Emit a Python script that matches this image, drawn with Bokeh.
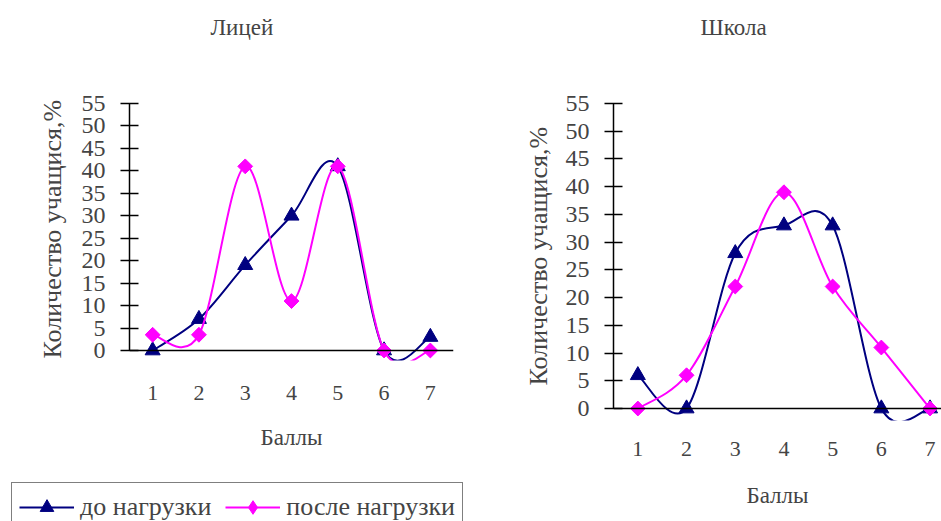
import numpy as np
from bokeh.plotting import figure
from bokeh.models import Range1d, FixedTicker, Span, Legend, LegendItem, Title
from bokeh.layouts import row, column
from bokeh.embed import file_html
from bokeh.resources import INLINE

# Scores and the share of pupils (%) before / after the load
scores = [1, 2, 3, 4, 5, 6, 7]
y_ticks = [0, 5, 10, 15, 20, 25, 30, 35, 40, 45, 50, 55]

lyceum_before = [0, 7, 19, 30, 41, 0, 3]
lyceum_after = [3.5, 3.5, 41, 11, 41, 0, 0]

school_before = [6, 0, 28, 33, 33, 0, 0]
school_after = [0, 6, 22, 39, 22, 11, 0]

label_before = "до нагрузки"
label_after = "после нагрузки"
y_title = "Количество учащися,%"
x_title = "Баллы"

NAVY = "#000080"
MAGENTA = "#FF00FF"
FONT = "Liberation Serif"


def smooth_segments(xs, ys):
    """Cubic Bezier segments through the points (Catmull-Rom tangents)."""
    x = np.asarray(xs, dtype=float)
    y = np.asarray(ys, dtype=float)
    n = len(x)
    xp = np.concatenate([[x[0]], x, [x[-1]]])
    yp = np.concatenate([[y[0]], y, [y[-1]]])
    return dict(
        x0=x[:-1], y0=y[:-1], x1=x[1:], y1=y[1:],
        cx0=x[:-1] + (xp[2:n + 1] - xp[0:n - 1]) / 6.0,
        cy0=y[:-1] + (yp[2:n + 1] - yp[0:n - 1]) / 6.0,
        cx1=x[1:] - (xp[3:n + 2] - xp[1:n]) / 6.0,
        cy1=y[1:] - (yp[3:n + 2] - yp[1:n]) / 6.0,
    )


# markers on the charts: triangles and squares turned by 45 degrees
SERIES_STYLE = {
    "before": dict(color=NAVY, marker="triangle", size=15, angle=0.0),
    "after": dict(color=MAGENTA, marker="square", size=10.5, angle=np.pi / 4),
}
# the legend samples ignore the angle, so they use the diamond marker
KEY_STYLE = {
    "before": SERIES_STYLE["before"],
    "after": dict(color=MAGENTA, marker="diamond", size=17, angle=0.0),
}


def draw_series(p, xs, values, style):
    seg = smooth_segments(xs, values)
    line = p.bezier(x0=seg["x0"], y0=seg["y0"], x1=seg["x1"], y1=seg["y1"],
                    cx0=seg["cx0"], cy0=seg["cy0"], cx1=seg["cx1"], cy1=seg["cy1"],
                    line_color=style["color"], line_width=2)
    pts = p.scatter(xs, values, marker=style["marker"], size=style["size"],
                    angle=style["angle"], fill_color=style["color"], line_color=style["color"])
    return [line, pts]


def make_chart(title, before, after, width, height, borders, x_range, y_range,
               title_offset, ytitle_offset, ytitle_standoff,
               x_label_standoff, x_title_standoff):
    left, right, top, bottom = borders
    p = figure(width=width, height=height, output_backend="svg", toolbar_location=None,
               x_range=Range1d(*x_range), y_range=Range1d(*y_range),
               min_border_left=left, min_border_right=right,
               min_border_top=top, min_border_bottom=bottom,
               background_fill_color="white", border_fill_color="white")
    p.outline_line_color = None
    p.xgrid.grid_line_color = None
    p.ygrid.grid_line_color = None

    p.title.text = title
    p.title.text_font = FONT
    p.title.text_font_style = "normal"
    p.title.text_font_size = "23px"
    p.title.align = "left"
    p.title.offset = title_offset
    p.title.standoff = 22

    # value axis
    ya = p.yaxis[0]
    ya.ticker = FixedTicker(ticks=y_ticks)
    ya.bounds = (0, 55)
    ya.axis_line_color = "black"
    ya.axis_line_width = 1.5
    ya.major_tick_line_width = 1.5
    ya.major_tick_in = 9
    ya.major_tick_out = 9
    ya.minor_tick_line_color = None
    ya.major_label_standoff = 15
    ya.major_label_text_font = FONT
    ya.major_label_text_font_size = "24px"

    # value-axis title, placed along the side panel
    p.add_layout(Title(text=y_title, align="left", offset=ytitle_offset,
                       standoff=ytitle_standoff, text_font=FONT,
                       text_font_style="normal", text_font_size="26px"), "left")

    # category axis: labels below, the axis line itself runs along zero
    xa = p.xaxis[0]
    xa.ticker = FixedTicker(ticks=scores)
    xa.axis_line_color = None
    xa.major_tick_line_color = None
    xa.minor_tick_line_color = None
    xa.major_label_standoff = x_label_standoff
    xa.major_label_text_font = FONT
    xa.major_label_text_font_size = "22px"
    xa.axis_label = x_title
    xa.axis_label_text_font = FONT
    xa.axis_label_text_font_style = "normal"
    xa.axis_label_text_font_size = "23px"
    xa.axis_label_standoff = x_title_standoff

    p.add_layout(Span(location=0, dimension="width", line_color="black", line_width=1.5))

    draw_series(p, scores, before, SERIES_STYLE["before"])
    draw_series(p, scores, after, SERIES_STYLE["after"])
    return p


lyceum = make_chart(
    "Лицей", lyceum_before, lyceum_after, 480, 482,
    borders=(129, 27, 50, 122), x_range=(0.5, 7.5), y_range=(-2.23, 66.80),
    title_offset=81, ytitle_offset=2, ytitle_standoff=23,
    x_label_standoff=19, x_title_standoff=22)

school = make_chart(
    "Школа", school_before, school_after, 461, 521,
    borders=(133, 0, 50, 101), x_range=(0.5, 7.235), y_range=(-2.16, 64.56),
    title_offset=87, ytitle_offset=35, ytitle_standoff=19,
    x_label_standoff=15, x_title_standoff=24)

# Legend strip under the left chart; its renderers lie outside the strip's ranges
key = figure(width=480, height=39, output_backend="svg", toolbar_location=None,
             x_axis_type=None, y_axis_type=None,
             x_range=Range1d(-20, -19), y_range=Range1d(-20, -19),
             min_border_left=0, min_border_right=0, min_border_top=0, min_border_bottom=0,
             background_fill_color="white", border_fill_color="white")
key.outline_line_color = None
key.xgrid.grid_line_color = None
key.ygrid.grid_line_color = None
k_before = draw_series(key, scores, lyceum_before, KEY_STYLE["before"])
k_after = draw_series(key, scores, lyceum_after, KEY_STYLE["after"])
legend = Legend(
    items=[LegendItem(label=label_before, renderers=k_before),
           LegendItem(label=label_after, renderers=k_after)],
    orientation="horizontal", location=(11, -11),
    label_text_font=FONT, label_text_font_size="26px",
    glyph_width=55, glyph_height=34, label_standoff=6, spacing=14,
    padding=7, margin=0,
    border_line_color="black", border_line_width=1.5,
    background_fill_color="white", background_fill_alpha=1.0)
key.add_layout(legend)

layout = row(column(lyceum, row(key)), school)

with open("out.html", "w") as f:
    f.write(file_html(layout, INLINE))
